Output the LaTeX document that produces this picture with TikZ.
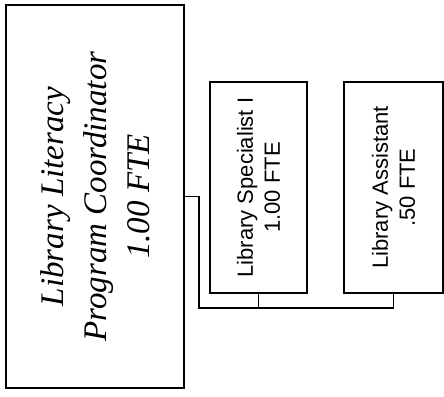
\documentclass[tikz,border=0pt]{standalone}
\usepackage{fontspec}
\setmainfont{Liberation Serif}
\newfontfamily\boxsans{Liberation Sans}
\begin{document}
\begin{tikzpicture}[x=1pt,y=1pt,
  orgbox/.style={draw=black, line width=1.6pt, fill=white, rectangle, rotate=90, inner sep=0pt, align=center},
  conn/.style={draw=black, line width=1.2pt}]
\useasboundingbox (0,0) rectangle (444,396);
\node[orgbox, minimum width=383pt, minimum height=178pt,
      font=\fontsize{33}{43}\selectfont\itshape] (big) at (95,199.5)
  {Library Literacy\\Program Coordinator\\1.00 FTE};
\node[orgbox, minimum width=211pt, minimum height=97pt,
      font=\boxsans\fontsize{22}{27}\selectfont] (spec) at (258.5,208.5)
  {Library Specialist I\\1.00 FTE};
\node[orgbox, minimum width=211pt, minimum height=99pt,
      font=\boxsans\fontsize{22}{27}\selectfont] (asst) at (393.5,208.5)
  {Library Assistant\\.50 FTE};
\coordinate (j) at (199,88);
\draw[conn] (big.south) -| (j) -| (asst.west);
\draw[conn] (spec.west) -- (spec.west |- j);
\end{tikzpicture}
\end{document}
